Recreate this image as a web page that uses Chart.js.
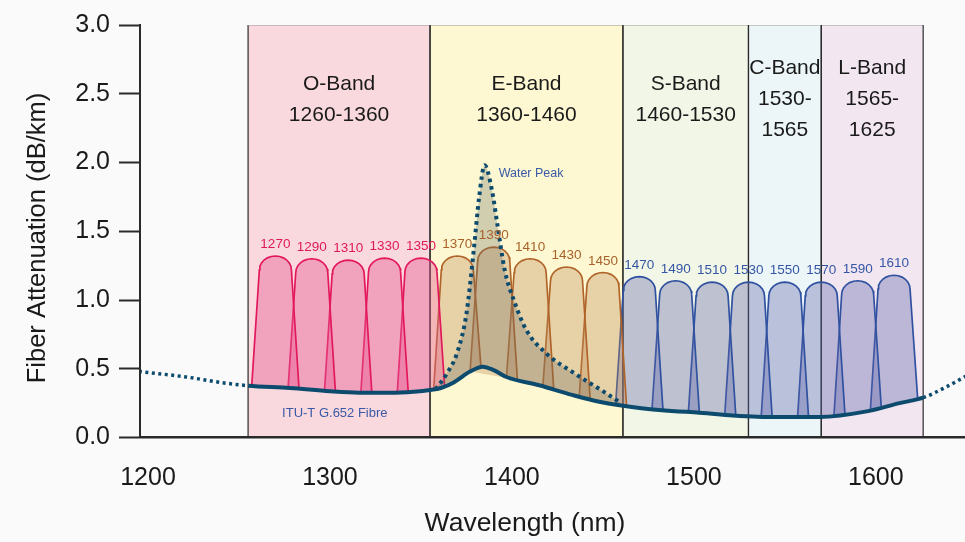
<!DOCTYPE html>
<html>
<head>
<meta charset="utf-8">
<script src="https://cdn.jsdelivr.net/npm/chart.js@4.4.0/dist/chart.umd.min.js"></script>
<style>
  html, body { margin: 0; padding: 0; background: #fafafa; }
  #wrap { width: 965px; height: 542px; }
</style>
</head>
<body>
<div id="wrap"><canvas id="cwdmChart" width="965" height="542"></canvas></div>
<script>
// Axis ticks
const xTickValues = [1200, 1300, 1400, 1500, 1600];
const yTickValues = [0, 0.5, 1, 1.5, 2, 2.5, 3];

// Wavelength bands (edges as drawn in the picture)
const bandNames = ['O-Band', 'E-Band', 'S-Band', 'C-Band', 'L-Band'];
const bandRanges = [['1260-1360'], ['1360-1460'], ['1460-1530'], ['1530-', '1565'], ['1565-', '1625']];
const bandStart = [1255, 1355, 1461, 1530, 1570];
const bandEnd = [1355, 1461, 1530, 1570, 1626];

// CWDM channels
const channelCenters = [1270, 1290, 1310, 1330, 1350, 1370, 1390, 1410, 1430, 1450,
                        1470, 1490, 1510, 1530, 1550, 1570, 1590, 1610];
const channelPeaks = [1.32, 1.30, 1.29, 1.305, 1.305, 1.32, 1.385, 1.30, 1.24, 1.20,
                      1.17, 1.14, 1.13, 1.13, 1.13, 1.13, 1.14, 1.18];

// ITU-T G.652 fibre attenuation
const fiberWavelength = [1195, 1221, 1240, 1255, 1278, 1300, 1316, 1333, 1346, 1355, 1361, 1368,
                         1377, 1384, 1390, 1397, 1415, 1433, 1448, 1470, 1503, 1540, 1569, 1595,
                         1613, 1626, 1639, 1650];
const fiberLoss = [0.48, 0.44, 0.40, 0.377, 0.36, 0.336, 0.326, 0.326, 0.333, 0.345, 0.36, 0.40,
                   0.48, 0.515, 0.49, 0.44, 0.38, 0.31, 0.26, 0.215, 0.18, 0.15, 0.15, 0.19,
                   0.25, 0.29, 0.37, 0.45];

// Water peak (older fibre)
const waterWavelength = [1358, 1364, 1370, 1375, 1379, 1382, 1385, 1389, 1392, 1396, 1401, 1408,
                         1419, 1434, 1452, 1460];
const waterLoss = [0.35, 0.46, 0.62, 0.90, 1.36, 1.75, 1.98, 1.80, 1.55, 1.22, 1.00, 0.78,
                   0.61, 0.47, 0.32, 0.25];

// styles
const bandColors = ['#f9d9de', '#fdf8d2', '#f2f6e6', '#ecf6f8', '#f2e6f1'];
const fiberColor = '#0d4b6e';
const oStyle = { line: '#e3185c', fill: 'rgba(232,88,145,0.42)', text: '#e0185a' };
const eStyle = { line: '#b0642a', fill: 'rgba(190,137,88,0.35)', text: '#a8622a' };
const blueStyle = { line: '#2f51a0', fill: 'rgba(95,100,170,0.36)', text: '#3556a6' };
const noteColor = '#3a5aa8';

function channelStyle(c) {
    if (c < bandEnd[0]) return oStyle;
    if (c < bandEnd[1]) return eStyle;
    return blueStyle;
}

// fibre loss at any wavelength (linear between read points)
function fiberAt(w) {
    for (let i = 1; i < fiberWavelength.length; i++) {
        if (w <= fiberWavelength[i]) {
            const t = (w - fiberWavelength[i - 1]) / (fiberWavelength[i] - fiberWavelength[i - 1]);
            return fiberLoss[i - 1] + t * (fiberLoss[i] - fiberLoss[i - 1]);
        }
    }
    return fiberLoss[fiberLoss.length - 1];
}

// outline of one channel: straight legs from the fibre curve, rounded cap on top
function channelOutline(center, peak) {
    const legBottom = 13, legTop = 8.8, capHeight = 0.1;
    const pts = [{ x: center - legBottom, y: fiberAt(center - legBottom) }];
    for (let k = 0; k <= 12; k++) {
        const a = Math.PI - Math.PI * k / 12;
        pts.push({ x: center + legTop * Math.cos(a), y: peak - capHeight + capHeight * Math.sin(a) });
    }
    pts.push({ x: center + legBottom, y: fiberAt(center + legBottom) });
    return pts;
}

function bandBox(i) {
    return [
        { x: bandStart[i], y: 0 }, { x: bandStart[i], y: 3 },
        { x: bandEnd[i], y: 3 }, { x: bandEnd[i], y: 0 }
    ];
}

function pickBandFont() {
    const c = document.createElement('canvas').getContext('2d');
    c.font = '25px "Liberation Sans Narrow", monospace';
    const w1 = c.measureText('1460-1530').width;
    c.font = '25px monospace';
    const w2 = c.measureText('1460-1530').width;
    return w1 !== w2 ? '25px "Liberation Sans Narrow"' : '21px "Liberation Sans"';
}
const bandFont = pickBandFont();

const datasets = [];

// 0: water peak, filled down to the fibre curve
datasets.push({
    label: 'Water Peak',
    data: waterWavelength.map((w, i) => ({ x: w, y: waterLoss[i] })),
    borderColor: fiberColor,
    borderWidth: 4,
    borderDash: [3.5, 4],
    borderCapStyle: 'butt',
    backgroundColor: 'rgba(110,105,95,0.30)',
    fill: { target: 1 },
    cubicInterpolationMode: 'monotone',
    pointRadius: 0,
    order: 1
});

// 1: fibre attenuation, dotted outside the bands
const solidFrom = bandStart[0], solidTo = bandEnd[bandEnd.length - 1];
datasets.push({
    label: 'ITU-T G.652 Fibre',
    data: fiberWavelength.map((w, i) => ({ x: w, y: fiberLoss[i] })),
    borderColor: fiberColor,
    borderWidth: 4,
    borderCapStyle: 'butt',
    fill: false,
    cubicInterpolationMode: 'monotone',
    pointRadius: 0,
    segment: {
        borderDash: ctx => (ctx.p1.parsed.x <= solidFrom || ctx.p0.parsed.x >= solidTo) ? [3, 3.5] : [],
        borderWidth: ctx => (ctx.p1.parsed.x <= solidFrom || ctx.p0.parsed.x >= solidTo) ? 3.5 : 4
    },
    order: 0
});

// channels
channelCenters.forEach((c, i) => {
    const st = channelStyle(c);
    datasets.push({
        label: String(c),
        data: channelOutline(c, channelPeaks[i]),
        borderColor: st.line,
        borderWidth: 1.7,
        backgroundColor: st.fill,
        fill: 'shape',
        tension: 0,
        pointRadius: 0,
        order: 2
    });
});

// band rectangles: fill, then outline (grey top, dark sides)
bandNames.forEach((name, i) => {
    datasets.push({
        label: name,
        data: bandBox(i),
        backgroundColor: bandColors[i],
        borderWidth: 0,
        fill: 'shape',
        tension: 0,
        pointRadius: 0,
        order: 4
    });
    datasets.push({
        label: name + ' edge',
        data: bandBox(i),
        borderWidth: 1.2,
        borderColor: '#2a2a2a',
        segment: {
            borderColor: ctx => ctx.p0.parsed.y === ctx.p1.parsed.y ? '#9a9a9a' : '#2a2a2a'
        },
        fill: false,
        tension: 0,
        pointRadius: 0,
        order: 3
    });
});

// texts: band names, channel labels, notes, axis titles
const chartTexts = {
    id: 'chartTexts',
    afterDatasetsDraw(chart) {
        const { ctx, chartArea, scales: { x, y } } = chart;
        ctx.save();
        ctx.textAlign = 'center';
        ctx.textBaseline = 'middle';

        ctx.fillStyle = '#1a1a1a';
        ctx.font = bandFont;
        bandNames.forEach((name, i) => {
            const lines = [name].concat(bandRanges[i]);
            const cx = (x.getPixelForValue(bandStart[i]) + x.getPixelForValue(bandEnd[i])) / 2;
            const cy0 = chartArea.top + 74.5 - (lines.length - 1) * 31 / 2;
            lines.forEach((t, j) => ctx.fillText(t, cx, cy0 + j * 31));
        });

        ctx.font = '13.5px "Liberation Sans"';
        channelCenters.forEach((c, i) => {
            ctx.fillStyle = channelStyle(c).text;
            ctx.fillText(String(c), x.getPixelForValue(c), y.getPixelForValue(channelPeaks[i]) - 11.5);
        });

        ctx.textAlign = 'left';
        ctx.fillStyle = noteColor;
        ctx.font = '12.5px "Liberation Sans"';
        const top = waterLoss.indexOf(Math.max(...waterLoss));
        ctx.fillText('Water Peak', x.getPixelForValue(waterWavelength[top]) + 14,
                     y.getPixelForValue(waterLoss[top]) + 8);
        ctx.font = '13px "Liberation Sans"';
        ctx.fillText('ITU-T G.652 Fibre', x.getPixelForValue(bandStart[0]) + 34, chartArea.bottom - 24.5);

        // axis titles
        ctx.fillStyle = '#1a1a1a';
        ctx.font = '26.5px "Liberation Sans"';
        ctx.textAlign = 'center';
        ctx.textBaseline = 'alphabetic';
        ctx.fillText('Wavelength (nm)', 525, 531);
        ctx.translate(45, 238);
        ctx.rotate(-Math.PI / 2);
        ctx.font = '25.5px "Liberation Sans"';
        ctx.fillText('Fiber Attenuation (dB/km)', 0, 0);
        ctx.restore();
    }
};

const ctx = document.getElementById('cwdmChart').getContext('2d');
new Chart(ctx, {
    type: 'line',
    data: { datasets: datasets },
    options: {
        responsive: false,
        animation: false,
        devicePixelRatio: 1,
        events: [],
        layout: { padding: { top: 25, left: 0, right: 0, bottom: 0 } },
        plugins: {
            legend: { display: false },
            tooltip: { enabled: false }
        },
        scales: {
            x: {
                type: 'linear',
                min: 1195.6,
                max: 1649,
                afterBuildTicks: axis => { axis.ticks = xTickValues.map(v => ({ value: v })); },
                afterFit: axis => { axis.height = 104.5; },
                grid: { display: false, drawTicks: false },
                border: { display: true, color: '#2a2a2a', width: 2.5, z: 1 },
                ticks: {
                    padding: 26,
                    color: '#1a1a1a',
                    font: { family: 'Liberation Sans', size: 25 },
                    maxRotation: 0,
                    callback: v => String(v)
                }
            },
            y: {
                min: 0,
                max: 3,
                afterBuildTicks: axis => { axis.ticks = yTickValues.map(v => ({ value: v })); },
                afterFit: axis => { axis.width = 140; },
                grid: { drawOnChartArea: false, drawTicks: true, tickLength: 21, tickColor: '#2a2a2a', tickWidth: 2 },
                border: { display: true, color: '#2a2a2a', width: 2, z: 1 },
                ticks: {
                    padding: 9,
                    color: '#1a1a1a',
                    font: { family: 'Liberation Sans', size: 25 },
                    callback: v => Number(v).toFixed(1)
                }
            }
        }
    },
    plugins: [chartTexts]
});
</script>
</body>
</html>
